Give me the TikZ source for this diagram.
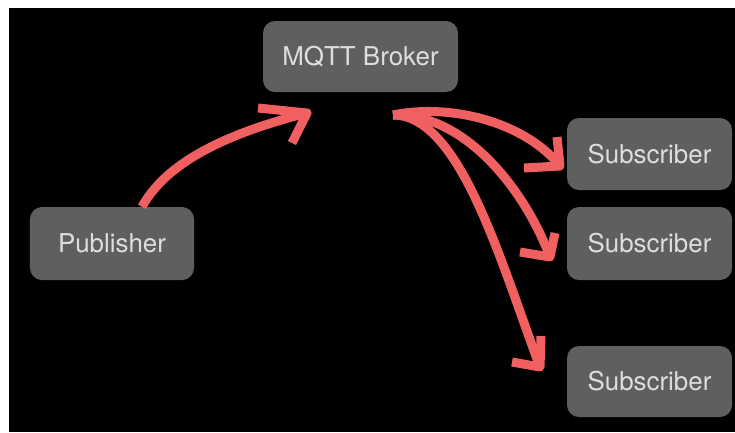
\documentclass[tikz,border=0pt]{standalone}
\usepackage{fontspec}
\setmainfont{TeX Gyre Heros}
\definecolor{boxgray}{RGB}{95,95,95}
\definecolor{txtgray}{RGB}{222,222,222}
\definecolor{arrowred}{RGB}{240,96,96}
\tikzset{
  box/.style={fill=boxgray, rounded corners=12bp, inner sep=0pt,
    text=txtgray, font=\fontsize{26}{31}\selectfont},
  pen/.style={draw=arrowred, line width=9bp, line join=round},
}
\begin{document}
\begin{tikzpicture}[x=1bp,y=-1bp]
\useasboundingbox (0,0) rectangle (735,432);
\fill[white] (0,0) rectangle (735,432);
\fill[black] (9,8) rectangle (735,432);
% nodes
\node[box, minimum width=195bp, minimum height=71bp] (broker) at (360.5,56.5) {MQTT Broker};
\node[box, minimum width=164bp, minimum height=73bp] (pub) at (112,243.5) {Publisher};
\node[box, minimum width=165bp, minimum height=72bp] (sub1) at (649.5,154) {Subscriber};
\node[box, minimum width=165bp, minimum height=73bp] (sub2) at (649.5,243.5) {Subscriber};
\node[box, minimum width=165bp, minimum height=71bp] (sub3) at (649.5,381.5) {Subscriber};
% connector end points
\coordinate (pubout) at ([xshift=30bp]pub.north);
\coordinate (tipA) at (307,113);
\coordinate (bout) at (393,115);
\coordinate (tipB) at (560,166);
\coordinate (tipC) at (550,257);
\coordinate (tipD) at (540,367);
% publisher -> broker
\draw[pen] (pubout) .. controls (165,165) and (220,135) .. (tipA);
\draw[pen] (258,108) -- (tipA) -- (292,143);
% broker -> subscribers
\draw[pen] (bout) .. controls (450,103) and (525,122) .. (tipB);
\draw[pen] (557,137) -- (tipB) -- (524,168);
\draw[pen] (bout) .. controls (465,113) and (525,190) .. (tipC);
\draw[pen] (555,233) -- (tipC) -- (520,252);
\draw[pen] (bout) .. controls (460,115) and (500,260) .. (tipD);
\draw[pen] (541,336) -- (tipD) -- (512,362);
\end{tikzpicture}
\end{document}
